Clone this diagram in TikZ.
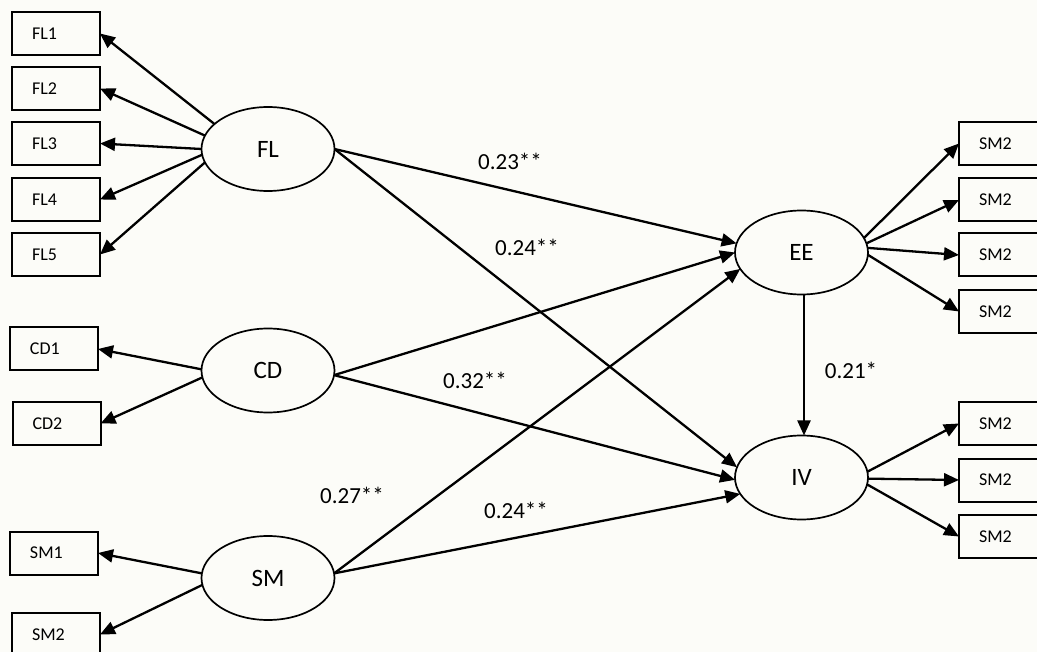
\documentclass[tikz,border=0pt]{standalone}
\usepackage{fontspec}
\setmainfont{Carlito}
\usetikzlibrary{arrows.meta,shapes.geometric}
\definecolor{paper}{RGB}{252,252,248}
\tikzset{
  latent/.style={ellipse, draw, line width=1.7pt, minimum width=133pt, minimum height=84pt,
    inner sep=0pt, outer sep=0pt, font=\fontsize{25}{28}\selectfont},
  indicator/.style={rectangle, draw, line width=2pt, minimum height=43pt, text width=48pt,
    inner xsep=20pt, inner ysep=0pt, outer sep=0pt, align=left, font=\fontsize{18}{21}\selectfont},
  arr/.style={line width=2.3pt, -{Triangle[length=15pt,width=13pt]}},
  coef/.style={font=\fontsize{23}{26}\selectfont, inner sep=0pt},
}
\begin{document}
\begin{tikzpicture}[x=1pt, y=-1pt]
\useasboundingbox (0,0) rectangle (1037,652);
\fill[paper] (0,0) rectangle (1037,652);

% latent constructs
\node[latent] (FL) at (268,149) {FL};
\node[latent] (CD) at (268,370.5) {CD};
\node[latent] (SM) at (268,578) {SM};
\node[latent] (EE) at (801.5,252.5) {EE};
\node[latent] (IV) at (801.5,477.5) {IV};

% indicators on the left
\node[indicator] (FL1) at (56,33.5) {FL1};
\node[indicator] (FL2) at (56,88.5) {FL2};
\node[indicator] (FL3) at (56,143.5) {FL3};
\node[indicator] (FL4) at (56,199.5) {FL4};
\node[indicator] (FL5) at (56,254.5) {FL5};
\node[indicator] (CD1) at (54,349) {CD1};
\node[indicator] (CD2) at (56.5,423.5) {CD2};
\node[indicator] (SM1) at (54,553) {SM1};
\node[indicator] (SM2) at (56,634.5) {SM2};

% indicators on the right
\node[indicator] (EE1) at (1003,143.5) {SM2};
\node[indicator] (EE2) at (1003,200) {SM2};
\node[indicator] (EE3) at (1003,255) {SM2};
\node[indicator] (EE4) at (1003,311.5) {SM2};
\node[indicator] (IV1) at (1003,423.5) {SM2};
\node[indicator] (IV2) at (1003,480) {SM2};
\node[indicator] (IV3) at (1003,536.5) {SM2};

% measurement arrows
\draw[arr] (FL.155) -- (FL1.east);
\draw[arr] (FL.168) -- (FL2.east);
\draw[arr] (FL.180) -- (FL3.east);
\draw[arr] (FL.185) -- (FL4.east);
\draw[arr] (FL.192) -- (FL5.east);
\draw[arr] (CD.179) -- (CD1.east);
\draw[arr] (CD.186) -- (CD2.east);
\draw[arr] (SM.176) -- (SM1.east);
\draw[arr] (SM.186) -- (SM2.east);
\draw[arr] (EE.13) -- (EE1.west);
\draw[arr] (EE.8) -- (EE2.west);
\draw[arr] (EE.4) -- (EE3.west);
\draw[arr] (EE.358) -- (EE4.west);
\draw[arr] (IV.5) -- (IV1.west);
\draw[arr] (IV.359) -- (IV2.west);
\draw[arr] (IV.354) -- (IV3.west);

% structural paths
\draw[arr] (FL.east) -- (EE.172);
\draw[arr] (FL.east) -- (IV.171);
\draw[arr] (CD.356) -- (EE.180);
\draw[arr] (CD.356) -- (IV.182);
\draw[arr] (SM.4) -- (EE.195);
\draw[arr] (SM.4) -- (IV.195);
\draw[arr] ([xshift=2.5pt]EE.south) -- ([xshift=2.5pt]IV.north);

% path coefficients
\node[coef] (c1) at (510,161) {0.23**};
\node[coef] (c2) at (527,247) {0.24**};
\node[coef] (c3) at (475,380) {0.32**};
\node[coef] (c4) at (352,495) {0.27**};
\node[coef] (c5) at (516,510) {0.24**};
\node[coef] (c6) at (851,370) {0.21*};
\end{tikzpicture}
\end{document}
